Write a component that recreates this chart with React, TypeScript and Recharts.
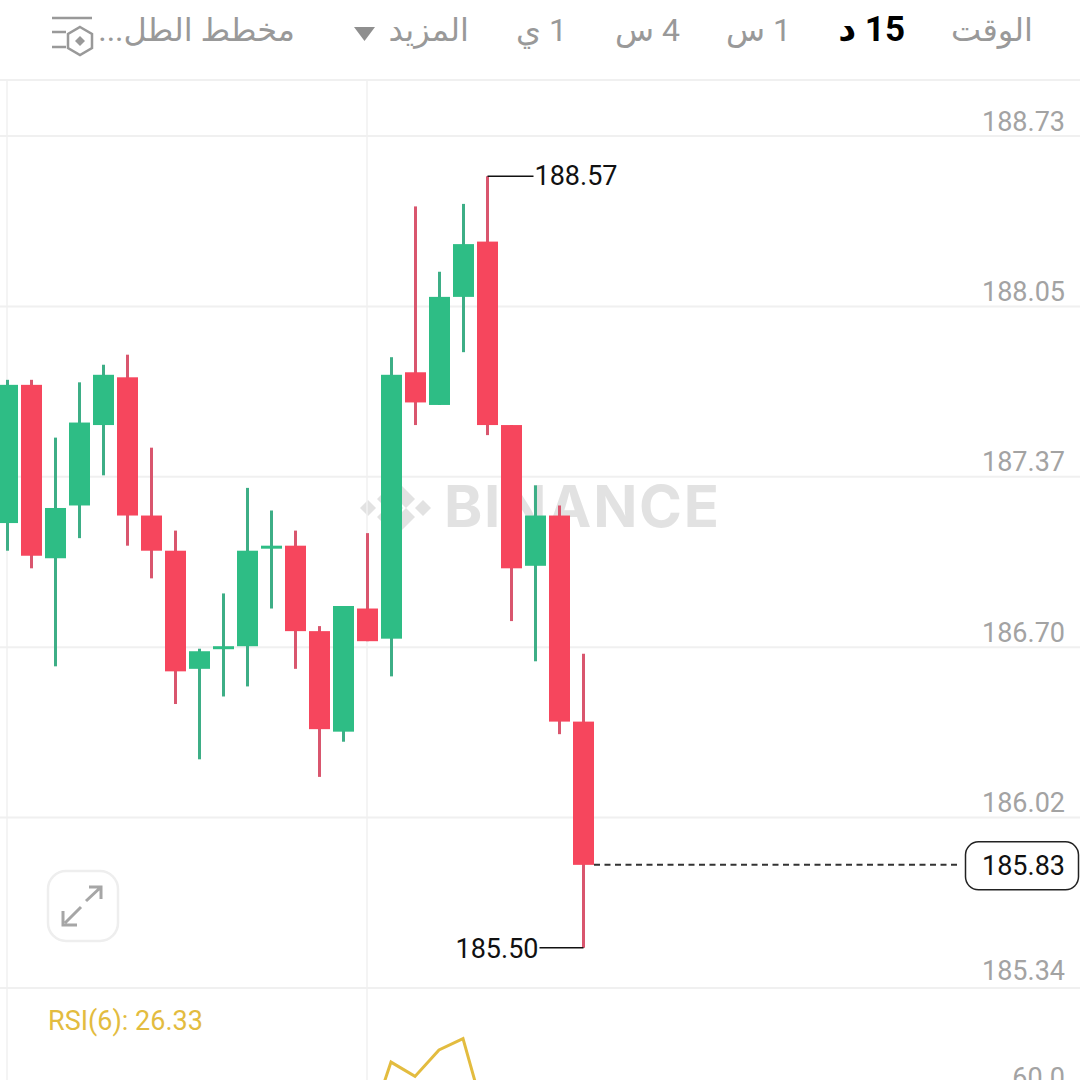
import React from 'react';
import { ComposedChart, Bar, Line, XAxis, YAxis, ReferenceLine } from 'recharts';

const SLOTS = ['0','1','2','3','4','5','6','7','8','9','10','11','12','13','14','15','16','17','18','19','20','21','22','23','24','25','26','27','28','29','30','31','32','33','34','35','36','37','38','39','40','41','42','43','44','45'];

const OPENS = [187.19,187.74,187.05,187.26,187.58,187.77,187.22,187.08,186.61,186.69,186.70,187.09,187.10,186.76,186.36,186.85,186.73,187.79,187.66,188.09,188.31,187.58,187.02,187.22,186.40];
const HIGHS = [187.76,187.76,187.53,187.75,187.82,187.86,187.49,187.16,186.69,186.91,187.33,187.24,187.16,186.78,186.86,187.15,187.85,188.45,188.19,188.46,188.57,187.58,187.34,187.26,186.67];
const LOWS = [187.08,187.01,186.62,187.13,187.38,187.10,186.97,186.47,186.25,186.50,186.54,186.85,186.61,186.18,186.32,186.72,186.58,187.58,187.66,187.87,187.54,186.80,186.64,186.35,185.50];
const CLOSES = [187.74,187.06,187.25,187.59,187.78,187.22,187.08,186.60,186.68,186.70,187.08,187.10,186.76,186.37,186.86,186.72,187.78,187.67,188.09,188.30,187.58,187.01,187.22,186.40,185.83];

// evenly spaced, the labels round them to two decimals
const PRICE_TICKS = [188.73, 188.052, 187.374, 186.696, 186.018, 185.34];
const RSI_VALUES = [44, 71.5, 66, 76.2, 80.5, 47.7];
const RSI_START = 15;
const RSI_TICKS = [60];
const RSI_LABEL = 'RSI(6): 26.33';

const TIMEFRAMES = [
  { label: 'الوقت', right: 47, active: false },
  { label: '15 د', right: 175, active: true },
  { label: '1 س', right: 289, active: false },
  { label: '4 س', right: 400, active: false },
  { label: '1 ي', right: 513, active: false },
  { label: 'المزيد', right: 611, active: false },
  { label: 'مخطط الطل...', right: 785, active: false },
];

const UP = '#2EBD85';
const DOWN = '#F6465D';
const UP_WICK = '#3DAE86';
const DOWN_WICK = '#D9566E';
const GRID = '#F0F0F0';
const TICK_FONT = 'Roboto, sans-serif';

const priceRows = SLOTS.map((slot, i) => ({
  slot,
  range: i < OPENS.length ? [LOWS[i], HIGHS[i]] : null,
  open: OPENS[i],
  close: CLOSES[i],
}));
const rsiRows = SLOTS.map((slot, i) => ({
  slot,
  rsi: i >= RSI_START && i < RSI_START + RSI_VALUES.length ? RSI_VALUES[i - RSI_START] : null,
}));

const maxHigh = Math.max(...HIGHS);
const minLow = Math.min(...LOWS);
const lastIdx = OPENS.length - 1;

function Candle(props: any) {
  const { x, y, width, height, payload, index } = props;
  if (!payload || !payload.range) return null;
  const [low, high] = payload.range;
  const pxPerPrice = height / (high - low);
  const yOf = (p: number) => y + (high - p) * pxPerPrice;
  const up = payload.close >= payload.open;
  const bodyTop = yOf(Math.max(payload.open, payload.close));
  const bodyH = Math.max(3, Math.abs(payload.open - payload.close) * pxPerPrice);
  const mid = x + width / 2;
  return (
    <g>
      <rect x={mid - 1.5} y={y} width={3} height={height} fill={up ? UP_WICK : DOWN_WICK} />
      <rect x={x} y={bodyTop} width={width} height={bodyH} fill={up ? UP : DOWN} />
      {high === maxHigh && (
        <g>
          <line x1={mid} x2={mid + 46} y1={y} y2={y} stroke="#111" strokeWidth={1.5} />
          <text x={mid + 47} y={y + 9} fontSize={27} fontFamily={TICK_FONT} fill="#111">{high.toFixed(2)}</text>
        </g>
      )}
      {low === minLow && (
        <g>
          <line x1={mid} x2={mid - 44} y1={y + height} y2={y + height} stroke="#111" strokeWidth={1.5} />
          <text x={mid - 45} y={y + height + 10} fontSize={27} fontFamily={TICK_FONT} fill="#111" textAnchor="end">{low.toFixed(2)}</text>
        </g>
      )}
      {index === lastIdx && (
        <g>
          <line x1={x + width} x2={960} y1={yOf(payload.close)} y2={yOf(payload.close)} stroke="#333" strokeWidth={2} strokeDasharray="6 4.5" />
          <rect x={965.5} y={yOf(payload.close) - 23} width={113} height={48} rx={13} fill="#fff" stroke="#222" strokeWidth={1.5} />
          <text x={1065} y={yOf(payload.close) + 10} fontSize={27} fontFamily={TICK_FONT} fill="#111" textAnchor="end">{payload.close.toFixed(2)}</text>
        </g>
      )}
    </g>
  );
}

function PriceTick(props: any) {
  const { y, payload } = props;
  // bottom label sits a little higher so it stays inside the panel
  const lift = payload.value === PRICE_TICKS[PRICE_TICKS.length - 1] ? 8.5 : 5.5;
  return (
    <text x={1065} y={y - lift} fontSize={27} fontFamily={TICK_FONT} fill="#A3A3A3" textAnchor="end">
      {payload.value.toFixed(2)}
    </text>
  );
}

function RsiTick(props: any) {
  const { y, payload } = props;
  return (
    <text x={1065} y={y - 5} fontSize={27} fontFamily={TICK_FONT} fill="#A3A3A3" textAnchor="end">
      {payload.value.toFixed(1)}
    </text>
  );
}

function Header() {
  return (
    <div style={{ position: 'absolute', left: 0, top: 0, width: 1080, height: 81, borderBottom: `2px solid ${GRID}`, boxSizing: 'border-box' }}>
      {TIMEFRAMES.map(tf => (
        <span key={tf.label} dir="rtl" style={{
          position: 'absolute', right: tf.right, top: 9, whiteSpace: 'nowrap', lineHeight: '42px',
          fontFamily: 'Roboto, "DejaVu Sans", sans-serif', fontSize: tf.active ? 35 : 32, fontWeight: tf.active ? 700 : 400,
          color: tf.active ? '#000' : '#999',
        }}>{tf.label}</span>
      ))}
      <svg width={1080} height={80} style={{ position: 'absolute', left: 0, top: 0 }}>
        <path d="M354 27 L375 27 L364.5 41 Z" fill="#8f8f8f" />
        <path d="M52 18 H92 M52 32 H66 M52 47 H66" stroke="#999" strokeWidth={2.5} />
        <path d="M80 27 L92 34 V48 L80 55 L68 48 V34 Z" stroke="#999" strokeWidth={2.5} fill="#fff" />
        <path d="M80 36 L85 41 L80 46 L75 41 Z" fill="#999" />
      </svg>
    </div>
  );
}

function Watermark() {
  return (
    <div style={{ position: 'absolute', left: 0, top: 0 }}>
      <svg width={1080} height={1080}>
        <g fill="#E2E2E2">
          <path d="M396 480 L415 499 L406 508 L396 498 L386 508 L377 499 Z" />
          <path d="M396 536 L415 517 L406 508 L396 518 L386 508 L377 517 Z" />
          <path d="M360 508 L368 500 L376 508 L368 516 Z" />
          <path d="M415 508 L423 500 L431 508 L423 516 Z" />
          <path d="M396 501 L403 508 L396 515 L389 508 Z" />
        </g>
        <text x={444} y={527} fontSize={58} fontWeight={700} fontFamily="Inter, sans-serif" fill="#E2E2E2" textLength={275}>BINANCE</text>
      </svg>
    </div>
  );
}

function ExpandButton() {
  return (
    <svg width={76} height={76} style={{ position: 'absolute', left: 45, top: 868 }}>
      <rect x={3} y={3} width={70} height={70} rx={18} fill="#fff" stroke="#EEEEEE" strokeWidth={2.5} />
      <path d="M41 33 L56 19 M44 19 H56 V31 M36 39 L20 55 M18 43 V57 H32" fill="none" stroke="#A6A6A6" strokeWidth={3} />
    </svg>
  );
}

export default function App() {
  return (
    <div style={{ position: 'absolute', left: 0, top: 0, width: 1080, height: 1080, overflow: 'hidden', background: '#fff' }}>
      <Watermark />
      <div style={{ position: 'absolute', left: 0, top: 0 }}>
        <ComposedChart width={1080} height={1080} data={priceRows} margin={{ top: 80, right: -20, bottom: 92, left: -5 }}>
          <XAxis dataKey="slot" hide />
          <YAxis yAxisId="price" orientation="right" type="number" width={1} domain={[185.34, 188.953]} ticks={PRICE_TICKS} interval={0} tick={<PriceTick />} axisLine={false} tickLine={false} allowDataOverflow />
          {PRICE_TICKS.map(v => (
            <ReferenceLine key={v} yAxisId="price" y={v} stroke={GRID} strokeWidth={2} zIndex={-100} />
          ))}
          <ReferenceLine yAxisId="price" x={SLOTS[0]} stroke={GRID} strokeWidth={1.5} zIndex={-100} />
          <ReferenceLine yAxisId="price" x={SLOTS[RSI_START]} stroke={GRID} strokeWidth={1.5} zIndex={-100} />
          <Bar yAxisId="price" dataKey="range" barSize={21} shape={<Candle />} isAnimationActive={false} />
        </ComposedChart>
      </div>
      <div style={{ position: 'absolute', left: 0, top: 988 }}>
        <ComposedChart width={1080} height={260} data={rsiRows} margin={{ top: 0, right: -20, bottom: 0, left: -5 }}>
          <XAxis dataKey="slot" scale="band" hide />
          <YAxis orientation="right" type="number" width={1} domain={[0, 100]} ticks={RSI_TICKS} interval={0} tick={<RsiTick />} axisLine={false} tickLine={false} />
          <ReferenceLine x={SLOTS[0]} stroke={GRID} strokeWidth={1.5} zIndex={-100} />
          <ReferenceLine x={SLOTS[RSI_START]} stroke={GRID} strokeWidth={1.5} zIndex={-100} />
          <Line dataKey="rsi" stroke="#E3BC3F" strokeWidth={3} dot={false} connectNulls={false} isAnimationActive={false} />
        </ComposedChart>
      </div>
      <div style={{ position: 'absolute', left: 48, top: 1004, fontFamily: TICK_FONT, fontSize: 27, lineHeight: '34px', color: '#E3BC3F' }}>{RSI_LABEL}</div>
      <ExpandButton />
      <Header />
    </div>
  );
}
